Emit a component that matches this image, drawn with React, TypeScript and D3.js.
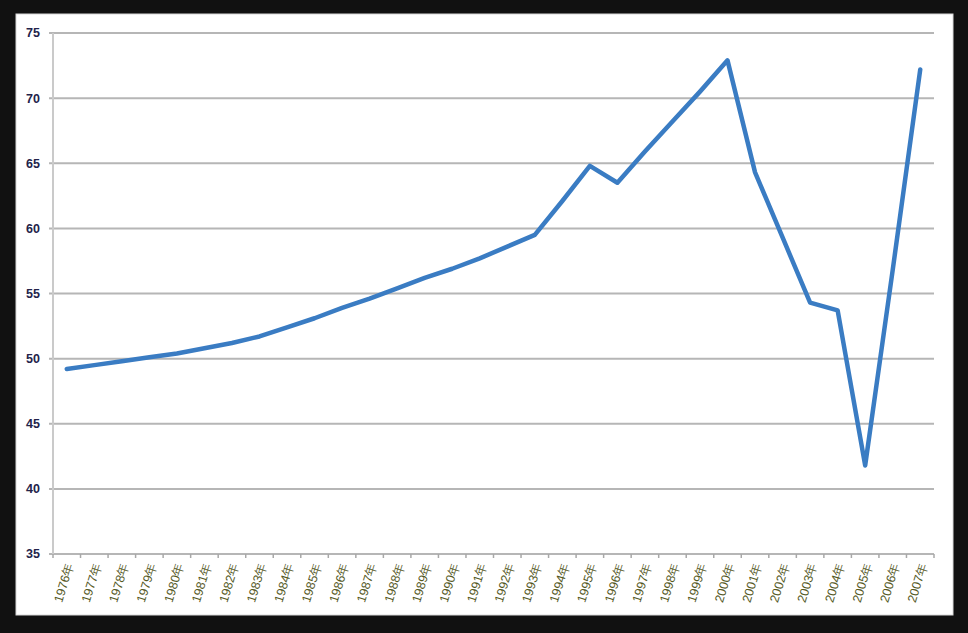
import React, { useEffect, useRef } from 'react';
import * as d3 from 'd3';

const years = [
  '1976年', '1977年', '1978年', '1979年', '1980年', '1981年', '1982年', '1983年',
  '1984年', '1985年', '1986年', '1987年', '1988年', '1989年', '1990年', '1991年',
  '1992年', '1993年', '1994年', '1995年', '1996年', '1997年', '1998年', '1999年',
  '2000年', '2001年', '2002年', '2003年', '2004年', '2005年', '2006年', '2007年'
];

const values = [
  49.2, 49.5, 49.8, 50.1, 50.4, 50.8, 51.2, 51.7,
  52.4, 53.1, 53.9, 54.6, 55.4, 56.2, 56.9, 57.7,
  58.6, 59.5, 62.1, 64.8, 63.5, 65.9, 68.2, 70.5,
  72.9, 64.3, 59.3, 54.3, 53.7, 41.8, 56.8, 72.2
];

const yTicks = [35, 40, 45, 50, 55, 60, 65, 70, 75];

const W = 968;
const H = 633;

export default function App() {
  const svgRef = useRef<SVGSVGElement>(null);

  useEffect(() => {
    document.body.style.margin = '0';
    document.body.style.background = '#111111';
    if (!svgRef.current) return;

    const left = 53, right = 934, top = 33, bottom = 554;

    const svg = d3.select(svgRef.current);
    svg.selectAll('*').remove();

    // white panel
    svg.append('rect')
      .attr('x', 16).attr('y', 14)
      .attr('width', 937).attr('height', 601)
      .attr('fill', '#ffffff')
      .attr('stroke', '#d8d8d8');

    const x = d3.scaleBand<string>().domain(years).range([left, right]);
    const y = d3.scaleLinear().domain([35, 75]).range([bottom, top]);

    // horizontal grid lines
    svg.append('g')
      .selectAll('line')
      .data(yTicks)
      .enter()
      .append('line')
      .attr('x1', left - 4)
      .attr('x2', right)
      .attr('y1', d => y(d))
      .attr('y2', d => y(d))
      .attr('stroke', '#b6b6b6')
      .attr('stroke-width', 2);

    // y axis line
    svg.append('line')
      .attr('x1', left).attr('x2', left)
      .attr('y1', top).attr('y2', bottom)
      .attr('stroke', '#cacaca')
      .attr('stroke-width', 2);

    // x ticks at band edges
    const edges = years.map(d => x(d) as number).concat([right]);
    svg.append('g')
      .selectAll('line')
      .data(edges)
      .enter()
      .append('line')
      .attr('x1', d => d).attr('x2', d => d)
      .attr('y1', bottom).attr('y2', bottom + 4)
      .attr('stroke', '#a8a8a8')
      .attr('stroke-width', 1.5);

    // y labels
    svg.append('g')
      .selectAll('text')
      .data(yTicks)
      .enter()
      .append('text')
      .attr('x', 40)
      .attr('y', d => y(d))
      .attr('dy', '0.35em')
      .attr('text-anchor', 'end')
      .attr('font-family', 'Liberation Sans, Arial, sans-serif')
      .attr('font-size', 12.5)
      .attr('font-weight', 'bold')
      .attr('fill', '#23234a')
      .text(d => d);

    // x labels, rotated
    svg.append('g')
      .selectAll('text')
      .data(years)
      .enter()
      .append('text')
      .attr('transform', d => `translate(${(x(d) as number) + x.bandwidth() / 2 + 3},${bottom + 9}) rotate(-73)`)
      .attr('dy', '0.35em')
      .attr('text-anchor', 'end')
      .attr('font-family', 'Liberation Sans, Arial, sans-serif')
      .attr('font-size', 12.5)
      .attr('fill', '#55591f')
      .text(d => d);

    // line
    const line = d3.line<number>()
      .x((_, i) => (x(years[i]) as number) + x.bandwidth() / 2)
      .y(d => y(d));

    svg.append('path')
      .datum(values)
      .attr('d', line)
      .attr('fill', 'none')
      .attr('stroke', '#3a7cc3')
      .attr('stroke-width', 4.5)
      .attr('stroke-linejoin', 'round')
      .attr('stroke-linecap', 'round');
  }, []);

  return (
    <svg ref={svgRef} width={W} height={H} style={{ display: 'block', background: '#111111' }} />
  );
}
